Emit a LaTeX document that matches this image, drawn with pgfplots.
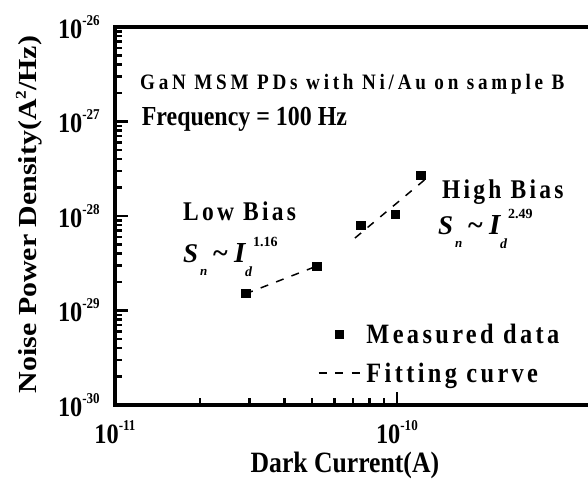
\documentclass[border=0pt]{standalone}
\usepackage{fontspec}
\setmainfont{Liberation Serif}[FakeStretch=0.87]
\newfontfamily\rotfont{Liberation Serif}[FakeStretch=1.15]
\newfontfamily\spfont{Liberation Serif}[FakeStretch=0.87,LetterSpace=12]
\newfontfamily\gfont{Liberation Serif}[FakeStretch=0.87,LetterSpace=17]
\newfontfamily\mfont{Liberation Serif}
\usepackage{pgfplots}
\pgfplotsset{compat=1.18}

% legend images: one centred square, one 41pt dashed stroke
\pgfplotsset{
  sqleg/.style={legend image code/.code={\draw[mark repeat=2,mark phase=2,##1] plot coordinates {(0pt,0pt) (20.5pt,0pt) (41pt,0pt)};}},
  dashleg/.style={legend image code/.code={\draw[##1] (0pt,0pt) -- (41pt,0pt);}},
}

% power-of-ten tick label in the text font
\newcommand\tpow[1]{\fontsize{28}{28}\selectfont\bfseries 10\raisebox{13pt}{\fontsize{15}{15}\selectfont #1}}
% S_n ~ I_d^{exp}
\newcommand\plaw[1]{\fontsize{27}{27}\mfont\bfseries
  \rlap{\textit{S}}\kern17pt%
  \rlap{\raisebox{-13pt}{\fontsize{13}{13}\selectfont\textit{n}}}\kern13pt%
  \rlap{\fontsize{28}{28}\selectfont\textasciitilde}\kern21pt%
  \rlap{\fontsize{29}{29}\selectfont\textit{I}}\kern11pt%
  \rlap{\raisebox{-14pt}{\fontsize{14}{14}\selectfont\textit{d}}}\kern8pt%
  \raisebox{16pt}{\fontsize{14}{14}\selectfont #1}}

\begin{document}
\begin{tikzpicture}
\begin{axis}[
  xmode=log, ymode=log,
  scale only axis, width=479pt, height=378pt,
  xmin=1e-11, xmax=5e-10, ymin=1e-30, ymax=1e-26,
  axis line style={line width=3.5pt},
  every tick/.style={black, line width=2.5pt},
  major tick length=13pt, minor tick length=7pt,
  tick align=inside, xtick pos=left, ytick pos=left,
  xtick={1e-11,1e-10}, xticklabels={\tpow{-11},\tpow{-10}},
  ytick={1e-30,1e-29,1e-28,1e-27,1e-26},
  yticklabels={\tpow{-30},\tpow{-29},\tpow{-28},\tpow{-27},\tpow{-26}},
  xticklabel style={anchor=base, inner sep=0pt, yshift=-38pt},
  yticklabel style={anchor=base east, inner sep=0pt, xshift=-15pt, yshift=-11pt},
  xlabel={Dark Current(A)},
  ylabel={Noise Power Density(A\raisebox{11pt}{\fontsize{15}{15}\selectfont 2}/Hz)},
  every axis x label/.style={at={([yshift=-67pt]rel axis cs:0.48,0)}, anchor=base,
    font=\fontsize{29.5}{29.5}\selectfont\bfseries},
  every axis y label/.style={at={([xshift=-78pt]rel axis cs:0,0.504)}, rotate=90, anchor=base,
    font=\fontsize{26}{26}\rotfont\bfseries},
  legend cell align=left,
  legend style={draw=none, fill=none, at={(rel axis cs:0.4238,0.217)}, anchor=north west,
    inner sep=0pt, outer sep=0pt, row sep=17pt, column sep=6pt,
    nodes={inner sep=0pt, text height=20pt, text depth=2pt},
    font=\fontsize{28}{30}\spfont\bfseries},
]
% measured noise power density
\addplot[only marks, mark=square*, mark size=4.2pt, black, sqleg]
  coordinates {
  (2.91e-11,1.53e-29) (5.20e-11,2.96e-29)
  (7.45e-11,8.04e-29) (9.84e-11,1.05e-28) (1.216e-10,2.72e-28)};
\addlegendentry{Measured data}
% power-law fits, low and high bias
\addplot[black, line width=1.5pt, dash pattern=on 8pt off 8.5pt, dashleg]
  coordinates {(2.9e-11,1.5e-29) (5.3e-11,3.02e-29)};
\addlegendentry{Fitting curve}
\addplot[black, line width=1.5pt, dash pattern=on 8pt off 8.5pt, forget plot]
  coordinates {(7.1e-11,5.85e-29) (1.257e-10,2.43e-28)};

\node[anchor=base west, inner sep=0pt, font=\fontsize{22}{22}\gfont\bfseries]
  at (rel axis cs:0.0522,0.836) {GaN MSM PDs with Ni/Au on sample B};
\node[anchor=base west, inner sep=0pt, font=\fontsize{27.5}{28}\selectfont\bfseries]
  at (rel axis cs:0.0557,0.7407) {Frequency = 100 Hz};
\node[anchor=base west, inner sep=0pt, font=\fontsize{27}{27}\spfont\bfseries]
  at (rel axis cs:0.142,0.4894) {Low Bias};
\node[anchor=base west, inner sep=0pt]
  at (rel axis cs:0.142,0.3783) {\plaw{1.16}};
\node[anchor=base west, inner sep=0pt, font=\fontsize{27}{27}\spfont\bfseries]
  at (rel axis cs:0.6827,0.5476) {High Bias};
\node[anchor=base west, inner sep=0pt]
  at (rel axis cs:0.6743,0.4524) {\plaw{2.49}};
\end{axis}
\pgfresetboundingbox
\path[use as bounding box] ([xshift=-115pt,yshift=-74pt]current axis.south west)
  rectangle ([xshift=473pt,yshift=27pt]current axis.north west);
\end{tikzpicture}
\end{document}
